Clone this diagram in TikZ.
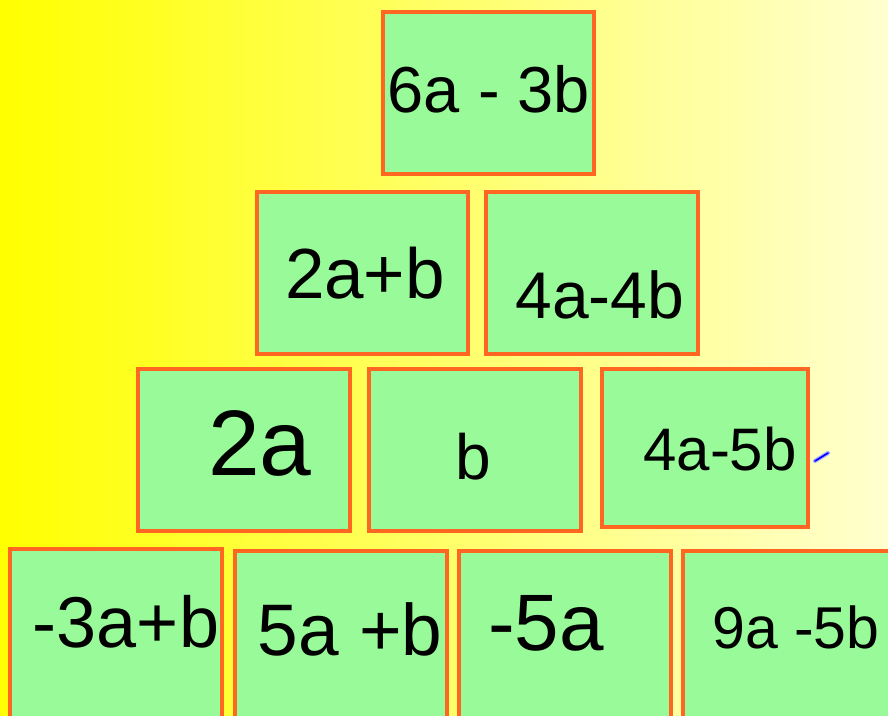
\documentclass[tikz,border=0pt]{standalone}
\usepackage{fontspec}
\setmainfont{Liberation Sans}
\definecolor{boxfill}{RGB}{152,250,152}
\definecolor{boxedge}{RGB}{255,102,34}
\definecolor{bgright}{RGB}{255,255,208}
\begin{document}
\begin{tikzpicture}[x=1pt,y=-1pt,
  tile/.style={draw=boxedge, fill=boxfill, line width=4pt, rectangle, inner sep=0pt},
  typed/.style={anchor=base, inner sep=0pt, text=black},
  hand/.style={anchor=base, inner sep=0pt, text=black}]
\useasboundingbox (0,0) rectangle (888,715);
\begin{scope}
\clip (0,0) rectangle (888,715);
\shade[left color=yellow, right color=bgright] (0,0) rectangle (888,715);
% row 1
\node[tile, minimum width=211pt, minimum height=162pt] (t1) at (488.5,93) {};
% row 2
\node[tile, minimum width=211pt, minimum height=162pt] (t2a) at (362.5,273) {};
\node[tile, minimum width=212pt, minimum height=162pt] (t2b) at (592,273) {};
% row 3
\node[tile, minimum width=212pt, minimum height=162pt] (t3a) at (244,450) {};
\node[tile, minimum width=212pt, minimum height=162pt] (t3b) at (475,450) {};
\node[tile, minimum width=206pt, minimum height=158pt] (t3c) at (705,448) {};
% row 4
\node[tile, minimum width=212pt, minimum height=176pt] (t4a) at (116,637) {};
\node[tile, minimum width=212pt, minimum height=176pt] (t4b) at (341,639) {};
\node[tile, minimum width=212pt, minimum height=176pt] (t4c) at (565,639) {};
\node[tile, minimum width=212pt, minimum height=176pt] (t4d) at (789,639) {};
% texts
\node[typed, font=\fontsize{65}{65}\selectfont] (x1) at (489,112) {6a - 3b};
\node[typed, font=\fontsize{71}{71}\selectfont] (x2a) at (365,298) {2a+b};
\node[hand, font=\fontsize{66}{66}\selectfont] (x2b) at (600,318) {4a-4b};
\node[typed, font=\fontsize{93}{93}\selectfont] (x3a) at (260,475) {2a};
\node[hand, font=\fontsize{64}{64}\selectfont] (x3b) at (473,479) {b};
\node[hand, font=\fontsize{60}{60}\selectfont] (x3c) at (720,470) {4a-5b};
\node[hand, font=\fontsize{72}{72}\selectfont] (x4a) at (126,647) {-3a+b};
\node[typed, font=\fontsize{73}{73}\selectfont] (x4b) at (350,655) {5a +b};
\node[hand, font=\fontsize{80}{80}\selectfont] (x4c) at (546,650) {-5a};
\node[hand, font=\fontsize{59}{59}\selectfont] (x4d) at (796,648) {9a -5b};
% blue pen mark
\coordinate (m1) at (815,461);
\coordinate (m2) at (828,453);
\draw[line width=4pt, blue!35, line cap=round] (m1) -- (m2);
\draw[line width=1.6pt, blue, line cap=round] (m1) -- (m2);
\end{scope}
\end{tikzpicture}
\end{document}
